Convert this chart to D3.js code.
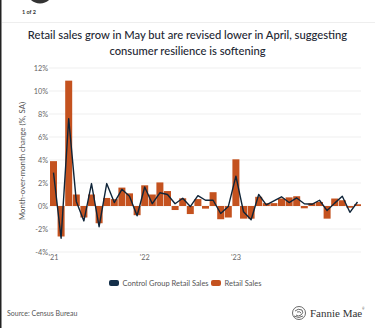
<!DOCTYPE html>
<html><head><meta charset="utf-8">
<script src="https://cdn.jsdelivr.net/npm/d3@7"></script>
<style>html,body{margin:0;padding:0;background:#fff;overflow:hidden}</style>
</head><body>
<svg id="c" width="375" height="328"></svg>
<script>
const months = d3.range(41).map(i => new Date(2021, i, 1));
const retailSales = [3.9, -2.65, 10.9, 1.0, -1.0, 1.0, -1.5, 0.7, 0.6, 1.6, 1.1, -0.8,
  1.8, 1.0, 2.05, 1.3, -0.35, 0.67, -0.7, 0.6, -0.23, 1.2, -1.15, -1.0,
  4.06, -1.1, -1.1, 0.8, 0.25, 0.25, 0.65, 0.75, 0.85, -0.2, 0.25, 0.35,
  -1.1, 0.65, 0.5, -0.15, 0.15];
const controlGroup = [2.9, -2.8, 7.6, 0.4, -1.3, 1.95, -1.8, 1.95, 0.3, 1.45, 0.85, -0.85,
  1.65, 0.2, 1.15, 1.0, 0.2, 0.67, -0.05, 0.9, 0.5, 0.5, -0.65, -0.05,
  2.6, -0.5, -1.2, 1.0, 0.1, 0.45, 0.8, 0.3, 0.7, 0.2, 0.15, 0.5,
  -0.4, 0.25, 0.85, -0.55, 0.35];
const yTicks = [-4, -2, 0, 2, 4, 6, 8, 10, 12];
const xTickLabels = ["'21", "'22", "'23"];
const xTickIdx = [0, 12, 24];
const seriesNames = ["Control Group Retail Sales", "Retail Sales"];
const titleLines = ["Retail sales grow in May but are revised lower in April, suggesting", "consumer resilience is softening"];

const ORANGE = "#c4521f", NAVY = "#0f2438";
const FONT = "Lato, 'Open Sans', sans-serif";
const svg = d3.select("#c");

// frame bits
svg.append("rect").attr("x",0).attr("y",0).attr("width",1.5).attr("height",328).attr("fill","#222");
svg.append("circle").attr("cx",40).attr("cy",-10).attr("r",13.5).attr("fill","#333");
svg.append("text").attr("x",29).attr("y",14).attr("text-anchor","middle")
  .attr("font-family",FONT).attr("font-size",5.5).attr("font-weight",700).attr("fill","#333").text("1 of 2");
svg.append("line").attr("x1",2).attr("x2",375).attr("y1",22.5).attr("y2",22.5).attr("stroke","#eee");

// title
function fit(sel, w){ let fs=+sel.attr("font-size"); for(let k=0;k<4;k++){const l=sel.node().getComputedTextLength(); fs*=w/l; sel.attr("font-size",fs);} }
const t1 = svg.append("text").attr("x",187.5).attr("y",39).attr("text-anchor","middle")
  .attr("font-family",FONT).attr("font-size",12.5).attr("font-weight",500).attr("fill","#1d2733").text(titleLines[0]);
fit(t1, 319);
svg.append("text").attr("x",187.5).attr("y",55).attr("text-anchor","middle")
  .attr("font-family",FONT).attr("font-size",t1.attr("font-size")).attr("font-weight",500).attr("fill","#1d2733").text(titleLines[1]);

const x = d3.scaleBand().domain(months.map((d,i)=>i)).range([49.7, 361.3]).paddingInner(0.08).paddingOuter(0.04);
const y = d3.scaleLinear().domain([-4, 12]).range([252, 68]);

// grid
svg.append("g").selectAll("line").data(yTicks).join("line")
  .attr("x1",49).attr("x2",361).attr("y1",d=>y(d)).attr("y2",d=>y(d))
  .attr("stroke","#ebebeb").attr("stroke-width",0.8);

// y axis
const yAxis = d3.axisLeft(y).tickValues(yTicks).tickFormat(d=>d+"%").tickSize(0).tickPadding(0);
const gy = svg.append("g").attr("transform","translate(48,0)").call(yAxis);
gy.select(".domain").remove();
gy.selectAll("text").attr("font-family",FONT).attr("font-size",7.3).attr("fill","#666");

// x axis
const xAxis = d3.axisBottom(x).tickValues(xTickIdx).tickFormat((d,i)=>xTickLabels[i]).tickSize(0).tickPadding(0);
const gx = svg.append("g").attr("transform","translate(0,255)").call(xAxis);
gx.select(".domain").remove();
gx.selectAll("text").attr("font-family",FONT).attr("font-size",7.3).attr("fill","#666");

// y label
svg.append("text").attr("transform","translate(25,161) rotate(-90)").attr("text-anchor","middle")
  .attr("font-family",FONT).attr("font-size",7.8).attr("fill","#555").text("Month-over-month change (%, SA)");

// bars
svg.append("g").selectAll("rect").data(retailSales).join("rect")
  .attr("x",(d,i)=>x(i)).attr("width",x.bandwidth())
  .attr("y",d=>y(Math.max(0,d))).attr("height",d=>Math.abs(y(d)-y(0)))
  .attr("fill",ORANGE);

// line
const line = d3.line().x((d,i)=>x(i)+x.bandwidth()/2).y(d=>y(d));
svg.append("path").datum(controlGroup).attr("d",line).attr("fill","none")
  .attr("stroke",NAVY).attr("stroke-width",1.4).attr("stroke-linejoin","round");

// legend
const lg = svg.append("g").attr("font-family",FONT).attr("font-size",7.5).attr("fill","#555");
lg.append("rect").attr("x",109).attr("y",280).attr("width",10).attr("height",6).attr("rx",2).attr("fill","#15304a");
lg.append("text").attr("x",122.5).attr("y",285.8).text(seriesNames[0]);
lg.append("rect").attr("x",211).attr("y",280).attr("width",10).attr("height",6).attr("rx",2).attr("fill",ORANGE);
lg.append("text").attr("x",224.5).attr("y",285.8).text(seriesNames[1]);

// source
svg.append("text").attr("x",7).attr("y",315.5).attr("font-family",FONT).attr("font-size",7).attr("fill","#555").text("Source: Census Bureau");

// Fannie Mae logo
const lo = svg.append("g").attr("transform","translate(299,313)").attr("fill","none").attr("stroke","#444").attr("stroke-width",0.8);
lo.append("circle").attr("r",6.5);
lo.append("path").attr("d","M-4,-2 Q-1,-5 3,-3 Q5,0 2,2 Q-1,4 -3,2 M-2,-1 Q1,-2 2,0 M-5,3 Q0,6 4,3");
svg.append("text").attr("x",310).attr("y",316.5).attr("font-family","'Liberation Serif', 'DejaVu Serif', serif")
  .attr("font-size",11).attr("fill","#333").text("Fannie Mae");
svg.append("text").attr("x",362).attr("y",310).attr("font-family",FONT).attr("font-size",3).attr("fill","#333").text("®");
</script>
</body></html>
